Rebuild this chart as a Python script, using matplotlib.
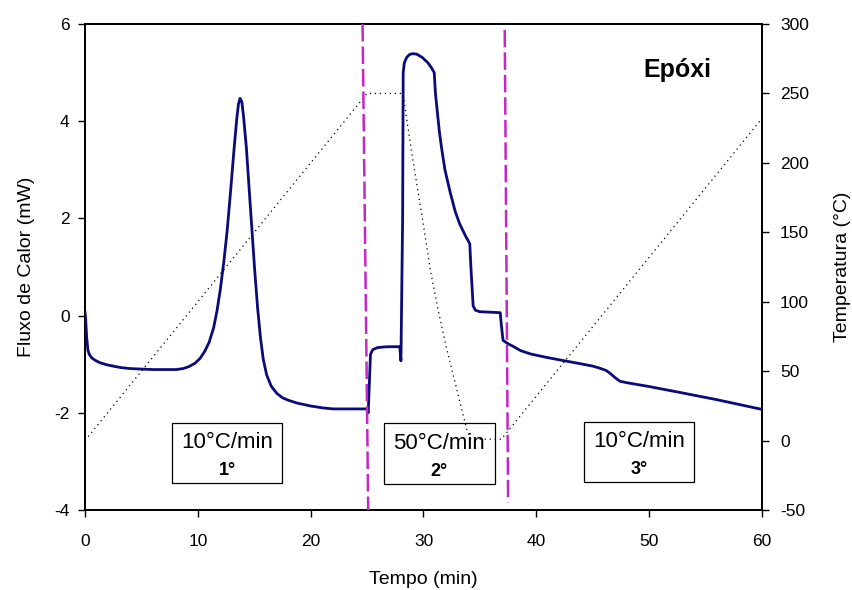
import matplotlib
matplotlib.use("Agg")
import matplotlib.pyplot as plt
from matplotlib.patches import Rectangle

plt.rcParams['font.family'] = ['Liberation Sans', 'DejaVu Sans']
plt.rcParams['axes.unicode_minus'] = False

# Heat flow (mW) vs time (min)
time_hf = [0.0, 0.05, 0.15, 0.25, 0.38, 0.6, 0.9, 1.33, 1.9, 2.5, 3.2, 4.0, 5.0, 6.0, 7.0, 8.1,
           8.7, 9.2, 9.75, 10.2, 10.6, 11.0, 11.4, 11.7, 12.0, 12.3, 12.6, 12.9, 13.2, 13.45,
           13.6, 13.74, 13.9, 14.05, 14.3, 14.55, 14.8, 15.05, 15.3, 15.55, 15.8, 16.1, 16.5,
           17.0, 17.5, 18.0, 18.8, 20.0, 21.1, 22.0, 25.0, 25.1, 25.2, 25.3, 25.5, 25.9, 26.5,
           27.0, 27.9, 28.0, 28.15, 28.2, 28.3, 28.5, 28.75, 29.0, 29.4, 29.9, 30.4, 30.7,
           30.95, 31.05, 31.2, 31.4, 31.6, 31.9, 32.35, 32.8, 33.2, 33.7, 34.1, 34.2, 34.4,
           34.6, 35.0, 36.8, 36.9, 37.05, 37.5, 38.0, 38.6, 39.5, 40.9, 42.5, 43.9, 45.0,
           45.6, 46.2, 46.6, 47.0, 47.4, 48.0, 50.0, 52.7, 56.0, 60.0]
heat_flow = [0.08, -0.05, -0.45, -0.7, -0.8, -0.87, -0.92, -0.97, -1.01, -1.04, -1.07, -1.09,
             -1.1, -1.11, -1.11, -1.11, -1.09, -1.05, -0.98, -0.88, -0.74, -0.55, -0.25, 0.1,
             0.55, 1.1, 1.75, 2.55, 3.4, 4.05, 4.35, 4.47, 4.4, 4.1, 3.46, 2.6, 1.75, 0.9,
             0.15, -0.45, -0.9, -1.22, -1.45, -1.6, -1.69, -1.74, -1.8, -1.86, -1.9, -1.92,
             -1.92, -2.0, -1.4, -0.8, -0.7, -0.66, -0.645, -0.64, -0.64, -0.93, 2.0, 5.0,
             5.2, 5.31, 5.37, 5.39, 5.38, 5.31, 5.2, 5.1, 5.0, 4.6, 4.25, 3.8, 3.45, 3.0,
             2.55, 2.15, 1.89, 1.65, 1.48, 1.0, 0.2, 0.11, 0.08, 0.06, -0.2, -0.51, -0.58,
             -0.64, -0.72, -0.79, -0.86, -0.93, -0.99, -1.04, -1.08, -1.13, -1.2, -1.28,
             -1.35, -1.38, -1.46, -1.58, -1.73, -1.93]

# Temperature program (°C) vs time (min)
time_temp = [0.0, 25.0, 28.2, 28.5, 29.0, 29.5, 30.0, 30.6, 31.3, 32.0, 32.7, 33.4, 33.9, 34.2,
             36.9, 37.4, 60.0]
temperature = [0.0, 250.0, 250.0, 232, 205, 180, 155, 123, 94, 68, 45, 22, 6, 1,
               1, 6, 232]

# Stage separators (time at top, time at bottom) and their vertical extent (mW)
sep_x_top = [24.6, 37.2]
sep_x_bottom = [25.1, 37.5]
sep_y_top = [6.0, 5.88]
sep_y_bottom = [-4.0, -3.85]

# Stage labels
stage_rates = ["10°C/min", "50°C/min", "10°C/min"]
stage_names = ["1°", "2°", "3°"]

x_ticks = [0, 10, 20, 30, 40, 50, 60]
left_ticks = [-4, -2, 0, 2, 4, 6]
right_ticks = [-50, 0, 50, 100, 150, 200, 250, 300]

fig = plt.figure(figsize=(8.52, 5.90), dpi=100)
ax = fig.add_axes([85/852, 1 - 510/590, (762-85)/852, (510-24)/590])
ax2 = ax.twinx()

ax.set_xlim(0, 60)
ax.set_ylim(-4, 6)
ax2.set_ylim(-50, 300)

ax2.plot(time_temp, temperature, color='black', lw=0.9, linestyle=(0, (1, 3)), zorder=2)
ax.set_zorder(ax2.get_zorder() + 1)
ax.patch.set_visible(False)

ax.plot(time_hf, heat_flow, color='#0a0a78', lw=2.0, zorder=3,
        solid_joinstyle='round', solid_capstyle='round')

for xt, xb, yt, yb in zip(sep_x_top, sep_x_bottom, sep_y_top, sep_y_bottom):
    ax.plot([xt, xb], [yt, yb], color='#c428c4', lw=1.8, linestyle=(0, (7, 2)), zorder=4,
            clip_on=False)

# stage boxes
box_left = [7.7, 26.5, 44.2]
box_width = 9.8
box_top = [-2.2, -2.22, -2.18]
box_h = 1.25
centers = [12.6, 31.4, 49.1]
for i in range(3):
    ax.add_patch(Rectangle((box_left[i], box_top[i] - box_h), box_width, box_h,
                           facecolor='none', edgecolor='black', lw=0.9, zorder=5))
    ax.text(centers[i], box_top[i] - 0.41, stage_rates[i], ha='center', va='center',
            fontsize=16, zorder=6)
    ax.text(centers[i], box_top[i] - 0.99, stage_names[i], ha='center', va='center',
            fontsize=13, fontweight='bold', zorder=6)

ax.text(52.5, 5.05, "Epóxi", ha='center', va='center', fontsize=18, fontweight='bold')

ax.set_xticks(x_ticks)
ax.set_yticks(left_ticks)
ax2.set_yticks(right_ticks)
for a in (ax, ax2):
    a.tick_params(direction='out', length=5, width=1, labelsize=12.5, colors='black')
    for s in a.spines.values():
        s.set_linewidth(1.3)
ax.tick_params(axis='x', pad=12)
ax.tick_params(axis='y', pad=6)
ax2.tick_params(axis='y', pad=8)

ax.set_xlabel("Tempo (min)", fontsize=14, labelpad=16)
ax.set_ylabel("Fluxo de Calor (mW)", fontsize=14, labelpad=14)
ax2.set_ylabel("Temperatura (°C)", fontsize=14, rotation=90, labelpad=18)

fig.savefig("out.png", dpi=100)
